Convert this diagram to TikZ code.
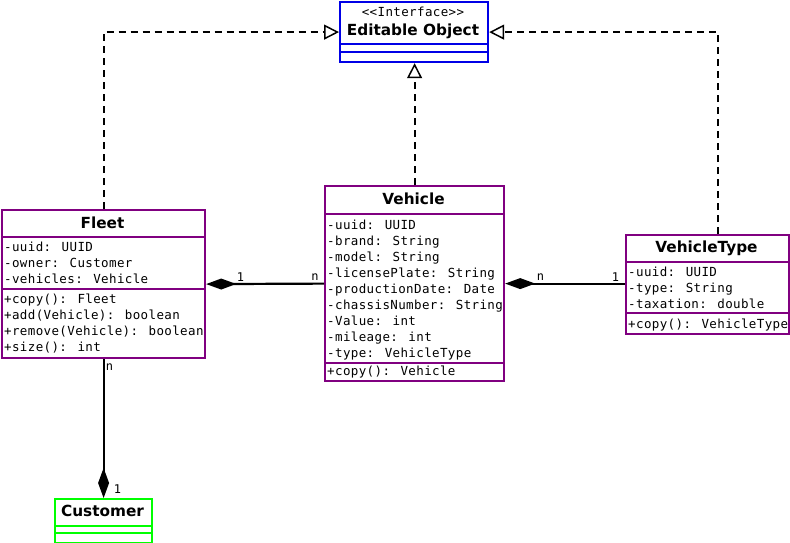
\documentclass[tikz,border=0pt]{standalone}
\usepackage{fontspec}
\setmainfont{DejaVu Sans}
\newfontfamily\umlmono[LetterSpace=3]{DejaVu Sans Mono}
\usetikzlibrary{arrows.meta}
\definecolor{umlpurple}{RGB}{128,0,128}
\definecolor{umlblue}{RGB}{0,0,230}
\definecolor{umlgreen}{RGB}{0,255,0}

\tikzset{
  classbox/.style={draw, line width=2.2pt, fill=white, inner sep=0pt, anchor=north west},
  classtitle/.style={font=\fontsize{15.3}{15.3}\selectfont\bfseries, inner sep=0pt, anchor=base},
  member/.style={font=\fontsize{12.5}{12.5}\umlmono, inner sep=0pt, anchor=base west},
  stereo/.style={font=\fontsize{12.5}{12.5}\umlmono, inner sep=0pt, anchor=base},
  mult/.style={font=\fontsize{12}{12}\umlmono, inner sep=0pt},
  sep/.style={line width=2.2pt},
  realize/.style={line width=2pt, dash pattern=on 7pt off 5pt,
    -{Triangle[open, length=15pt, width=15pt, line width=1.5pt]}},
  composite/.style={line width=2.2pt, {Diamond[length=30pt, width=11pt]}-},
  compositeend/.style={line width=2.2pt, -{Diamond[length=30pt, width=11pt]}},
}

\begin{document}
\begin{tikzpicture}[x=1pt, y=-1pt]
\useasboundingbox (0,0) rectangle (790,543);

% interface Editable Object
\node[classbox, draw=umlblue, minimum width=148pt, minimum height=60pt] (iface) at (339,1) {};
\draw[sep, umlblue] (339,44) -- (487,44);
\draw[sep, umlblue] (339,52) -- (487,52);
\node[stereo] (ifacestereo) at (413,16.5) {<<Interface>>};
\node[classtitle] (ifacetitle) at (413,35.5) {Editable Object};

% class Fleet
\node[classbox, draw=umlpurple, minimum width=203pt, minimum height=148pt] (fleet) at (1,209) {};
\draw[sep, umlpurple] (1,237) -- (204,237);
\draw[sep, umlpurple] (1,289) -- (204,289);
\node[classtitle] (fleettitle) at (102.5,228.5) {Fleet};
\node[member] (f1) at (4,251) {-uuid: UUID};
\node[member] (f2) at (4,267) {-owner: Customer};
\node[member] (f3) at (4,283) {-vehicles: Vehicle};
\node[member] (f4) at (4,303) {+copy(): Fleet};
\node[member] (f5) at (4,319) {+add(Vehicle): boolean};
\node[member] (f6) at (4,335) {+remove(Vehicle): boolean};
\node[member] (f7) at (4,351) {+size(): int};

% class Vehicle
\node[classbox, draw=umlpurple, minimum width=179pt, minimum height=195pt] (vehicle) at (324,185) {};
\draw[sep, umlpurple] (324,214) -- (503,214);
\draw[sep, umlpurple] (324,363) -- (503,363);
\node[classtitle] (vehicletitle) at (413.5,204.5) {Vehicle};
\node[member] (v1) at (327,229) {-uuid: UUID};
\node[member] (v2) at (327,245) {-brand: String};
\node[member] (v3) at (327,261) {-model: String};
\node[member] (v4) at (327,277) {-licensePlate: String};
\node[member] (v5) at (327,293) {-productionDate: Date};
\node[member] (v6) at (327,309) {-chassisNumber: String};
\node[member] (v7) at (327,325) {-Value: int};
\node[member] (v8) at (327,341) {-mileage: int};
\node[member] (v9) at (327,357) {-type: VehicleType};
\node[member] (v10) at (327,375.5) {+copy(): Vehicle};

% class VehicleType
\node[classbox, draw=umlpurple, minimum width=163pt, minimum height=99pt] (vtype) at (625,234) {};
\draw[sep, umlpurple] (625,262) -- (788,262);
\draw[sep, umlpurple] (625,313) -- (788,313);
\node[classtitle] (vtypetitle) at (706.5,252.5) {VehicleType};
\node[member] (t1) at (628,276) {-uuid: UUID};
\node[member] (t2) at (628,292) {-type: String};
\node[member] (t3) at (628,308) {-taxation: double};
\node[member] (t4) at (628,328.5) {+copy(): VehicleType};

% class Customer
\node[classbox, draw=umlgreen, minimum width=97pt, minimum height=44pt] (customer) at (54,498) {};
\draw[sep, umlgreen] (54,526) -- (151,526);
\draw[sep, umlgreen] (54,533) -- (151,533);
\node[classtitle] (customertitle) at (102.5,516.5) {Customer};

% realizations of the interface
\draw[realize] (fleet.north) |- (iface.west);
\draw[realize] ([xshift=10pt]vtype.north) |- (iface.east);
\draw[realize] (vehicle.north) -- (vehicle.north |- iface.south);

% compositions
\draw[composite] (fleet.east) -- (vehicle.west);
\draw[composite] (vehicle.east) -- (vtype.west |- vehicle.east);
\draw[compositeend] (fleet.south) -- (customer.north);

% multiplicities
\node[mult] (m1) at (240.5,277) {1};
\node[mult] (m2) at (315,277) {n};
\node[mult] (m3) at (540.5,277) {n};
\node[mult] (m4) at (615.5,277) {1};
\node[mult] (m5) at (109.5,367) {n};
\node[mult] (m6) at (117.5,489) {1};
\end{tikzpicture}
\end{document}
